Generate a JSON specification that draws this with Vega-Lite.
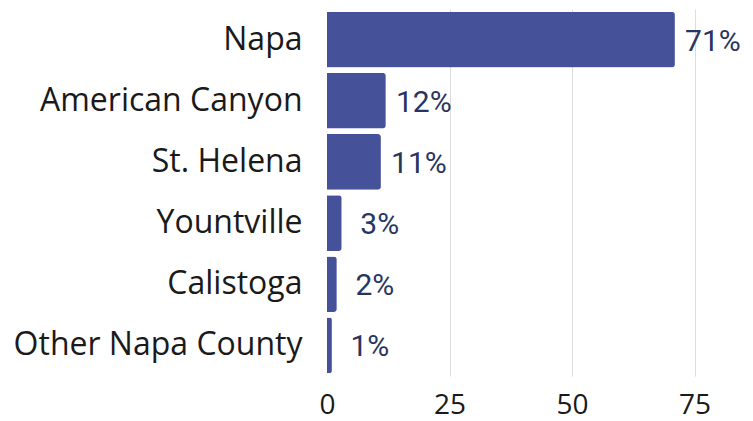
{
  "$schema": "https://vega.github.io/schema/vega-lite/v6.json",
  "autosize": {"type": "none"},
  "padding": {"left": 327, "top": 9, "right": 34, "bottom": 45},
  "width": 392,
  "height": 367,
  "background": "white",
  "data": {"values": [
    {"city": "Napa", "pct": 71, "label": "71%"},
    {"city": "American Canyon", "pct": 12, "label": "12%"},
    {"city": "St. Helena", "pct": 11, "label": "11%"},
    {"city": "Yountville", "pct": 3, "label": "3%"},
    {"city": "Calistoga", "pct": 2, "label": "2%"},
    {"city": "Other Napa County", "pct": 1, "label": "1%"}
  ]},
  "encoding": {
    "y": {"field": "city", "type": "nominal", "sort": null,
      "scale": {"paddingInner": 0.09, "paddingOuter": 0.045},
      "axis": {"title": null, "domain": false, "ticks": false, "labelPadding": 25,
        "labelFont": "Open Sans", "labelFontSize": 32, "labelColor": "#1a1a1a", "labelLimit": 400}},
    "x": {"field": "pct", "type": "quantitative",
      "scale": {"domain": [0, 80], "nice": false},
      "axis": {"title": null, "domain": false, "ticks": false, "values": [0, 25, 50, 75],
        "labelFlush": false,
        "labelFont": "Open Sans", "labelFontSize": 28, "labelColor": "#1a1a1a", "labelPadding": 15,
        "gridColor": "#dddddd", "gridWidth": 1,
        "gridOpacity": {"condition": {"test": "datum.value === 0", "value": 0}, "value": 1}}}
  },
  "layer": [
    {"mark": {"type": "bar", "color": "#45529a", "cornerRadiusEnd": 3}},
    {"mark": {"type": "text", "align": "center", "baseline": "middle", "dx": 38, "dy": 2,
      "font": "Roboto", "fontSize": 30, "color": "#283561"},
     "encoding": {"text": {"field": "label", "type": "nominal"}}}
  ],
  "config": {"view": {"stroke": null}}
}
